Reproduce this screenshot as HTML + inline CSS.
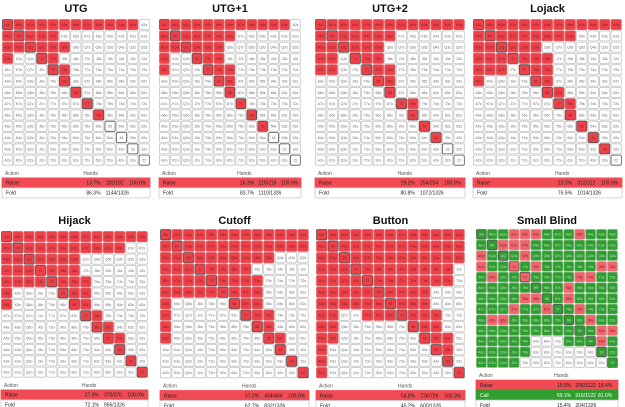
<!DOCTYPE html>
<html><head><meta charset="utf-8">
<style>
html,body{margin:0;padding:0;background:#fff;width:625px;height:407px;overflow:hidden;font-family:"Liberation Sans",sans-serif;}
svg{position:absolute;left:0;top:0;}
</style></head><body>
<svg id="chart" width="625" height="407" viewBox="0 0 625 407" font-family="Liberation Sans, sans-serif"></svg>
<script>
const ranks=['A','K','Q','J','T','9','8','7','6','5','4','3','2'];
const W13='WWWWWWWWWWWWW', R13='RRRRRRRRRRRRR';
const utgRange=['RRRRRRRRRRRRW','RRRRRWWWWWWWW','RRRRRRWWWWWWW','RWWRRWWWWWWWW','WWWWRRWWWWWWW','WWWWWRWWWWWWW','WWWWWWRWWWWWW','WWWWWWWRWWWWW','WWWWWWWWRWWWW',W13,W13,W13,W13];
const utg1Range=['RRRRRRRRRRRRW','RRRRRRRWWWWWW','RRRRRRWWWWWWW','RWWRRRWWWWWWW','RWWWRRRWWWWWW','WWWWWRRWWWWWW','WWWWWWRWWWWWW','WWWWWWWRWWWWW','WWWWWWWWRWWWW','WWWWWWWWWRWWW',W13,W13,W13];
const utg2Range=[R13,'RRRRRRRWWWWWW','RRRRRRWWWWWWW','RRWRRRWWWWWWW','RRWWRRRWWWWWW','WWWWWRRWWWWWW','WWWWWWRWWWWWW','WWWWWWWRRWWWW','WWWWWWWWRWWWW','WWWWWWWWWRWWW','WWWWWWWWWWRWW',W13,W13];
const lojackRange=[R13,'RRRRRRRRRWWWW','RRRRRRWWWWWWW','RRRRRRRWWWWWW','RRRWRRRWWWWWW','RWWWWRRWWWWWW','WWWWWWRRWWWWW','WWWWWWWRRWWWW','WWWWWWWWRWWWW','WWWWWWWWWRWWW','WWWWWWWWWWRWW','WWWWWWWWWWWRW',W13];
const hijackRange=[R13,'RRRRRRRRRRRWW','RRRRRRRWWWWWW','RRRRRRRWWWWWW','RRRRRRRRWWWWW','RWWWWRRRWWWWW','RWWWWWRRWWWWW','WWWWWWWRRWWWW','WWWWWWWWRRWWW','WWWWWWWWWRRWW','WWWWWWWWWWRWW','WWWWWWWWWWWRW','WWWWWWWWWWWWR'];
const cutoffRange=[R13,R13,'RRRRRRRRRRWWW','RRRRRRRRWWWWW','RRRRRRRRRWWWW','RRRRRRRRRWWWW','RWWWWWRRRWWWW','RWWWWWWRRRWWW','RWWWWWWWRRWWW','RWWWWWWWWRRWW','WWWWWWWWWWRWW','WWWWWWWWWWWRW','WWWWWWWWWWWWR'];
const buttonRange=[R13,R13,R13,'RRRRRRRRRRRRW','RRRRRRRRRRRRW','RRRRRRRRRRWWW','RRRRRRRRRRWWW','RRWWRRRRRRRWW','RRWWWWWWRRRWW','RRWWWWWWWRRRW','RWWWWWWWWWRRW','RWWWWWWWWWWRW','RWWWWWWWWWWWR'];
const sbRange=['GGGSSSGGGSGGG','GGSSSGGGGGGGG','SGGGSGGGGGGGG','SGGSGSGGGGGSS','GSGGSGGGGSSGG','GGGGGGGGSGGGG','GGGGSSGGSGGGG','GGGSGGSGGSGGG','GSSGGGGGGGSGG','GGGGGGGGGGGSS','GGGGGWWWGGGSG','GGGGGWWWWWWGG','GGGGWWWWWWWWG'];
const panelNames=['UTG','UTG+1','UTG+2','Lojack','Hijack','Cutoff','Button','Small Blind'];
const panelRanges=[utgRange,utg1Range,utg2Range,lojackRange,hijackRange,cutoffRange,buttonRange,sbRange];
const raiseStats=[['13.7%','182/182','100.0%'],['16.3%','216/216','100.0%'],['19.2%','254/254','100.0%'],['23.5%','312/312','100.0%'],['27.9%','370/370','100.0%'],['37.3%','494/494','100.0%'],['54.8%','726/726','100.0%'],['15.5%','206/1122','18.4%']];
const callStats=[null,null,null,null,null,null,null,['69.1%','916/1122','81.6%']];
const foldStats=[['86.3%','1144/1326'],['83.7%','1110/1326'],['80.8%','1072/1326'],['76.5%','1014/1326'],['72.1%','956/1326'],['62.7%','832/1326'],['45.2%','600/1326'],['15.4%','204/1326']];
const geo=[[2,19,148,11.3,12],[159,19,142,11.3,12],[315,19,150,11.3,12],[473,19,149,11.3,12],[1,231,147,11.3,224],[160,229,149,11.5,224],[316,229,149,11.5,224],[476,229,142,10.7,224]];
const fills={R:'#ee4049',S:'#f0646b',G:'#2e9c2e',W:'#ffffff'};
const borders={R:'#d9646a',S:'#e0868b',G:'#6fb56f',W:'#c4c4c4'};
const texts={R:'#7a2020',S:'#7a2020',G:'#bfe6bf',W:'#666'};
const NS='http://www.w3.org/2000/svg';
const svg=document.getElementById('chart');
function el(tag,attrs){const e=document.createElementNS(NS,tag);for(const k in attrs)e.setAttribute(k,attrs[k]);svg.appendChild(e);return e;}
panelNames.forEach((name,p)=>{
  const [x,y,w,ch,ty]=geo[p];const cw=w/13;
  const t=el('text',{x:x+w/2,y:ty,'text-anchor':'middle','font-size':11,'font-weight':'bold',fill:'#111'});
  
  
  t.textContent=name;
  const rng=panelRanges[p];
  for(let i=0;i<13;i++)for(let j=0;j<13;j++){
    const k=rng[i].charAt(j);
    const r=el('rect',{x:x+j*cw+0.5,y:y+i*ch+0.5,width:cw-1.2,height:ch-1.2,rx:1.2,fill:fills[k],stroke:i==j?'#555':borders[k],'stroke-width':0.8});
    
    
    const lab=i==j?ranks[i]+ranks[j]:(j>i?ranks[i]+ranks[j]+'s':ranks[j]+ranks[i]+'o');
    const tx=el('text',{x:x+j*cw+cw/2-0.1,y:y+i*ch+ch/2+1.3,'text-anchor':'middle','font-size':3.6,fill:texts[k]});
    
    
    tx.textContent=lab;
  }
  const bottom=y+13*ch;
  const a=el('text',{x:x+3,y:bottom+9,'font-size':5,fill:'#555'});
  
  
  a.textContent='Action';
  const h=el('text',{x:x+w*0.55,y:bottom+9,'font-size':5,fill:'#555'});
  
  
  h.textContent='Hands';
  const rows=[['Raise',raiseStats[p],'#f04a52']];
  if(callStats[p])rows.push(['Call',callStats[p],'#2f9e2f']);
  rows.push(['Fold',foldStats[p],'#fff']);
  rows.forEach((r,ri)=>{
    const ry=bottom+12+ri*10;
    const b=el('rect',{x:x,y:ry,width:w,height:10,fill:r[2],stroke:r[2]=='#fff'?'#ccc':r[2],'stroke-width':0.8});
    
    
    const vals=[r[0]].concat(r[1]);
    const pos=[4,w*0.57,w*0.70,w*0.86];
    vals.forEach((v,vi)=>{
      const s=el('text',{x:x+pos[vi],y:ry+6.8,'font-size':5,fill:r[0]=='Call'?'#fff':'#222'});
      
      
      s.textContent=v;
    });
  });
});
</script>
</body></html>
